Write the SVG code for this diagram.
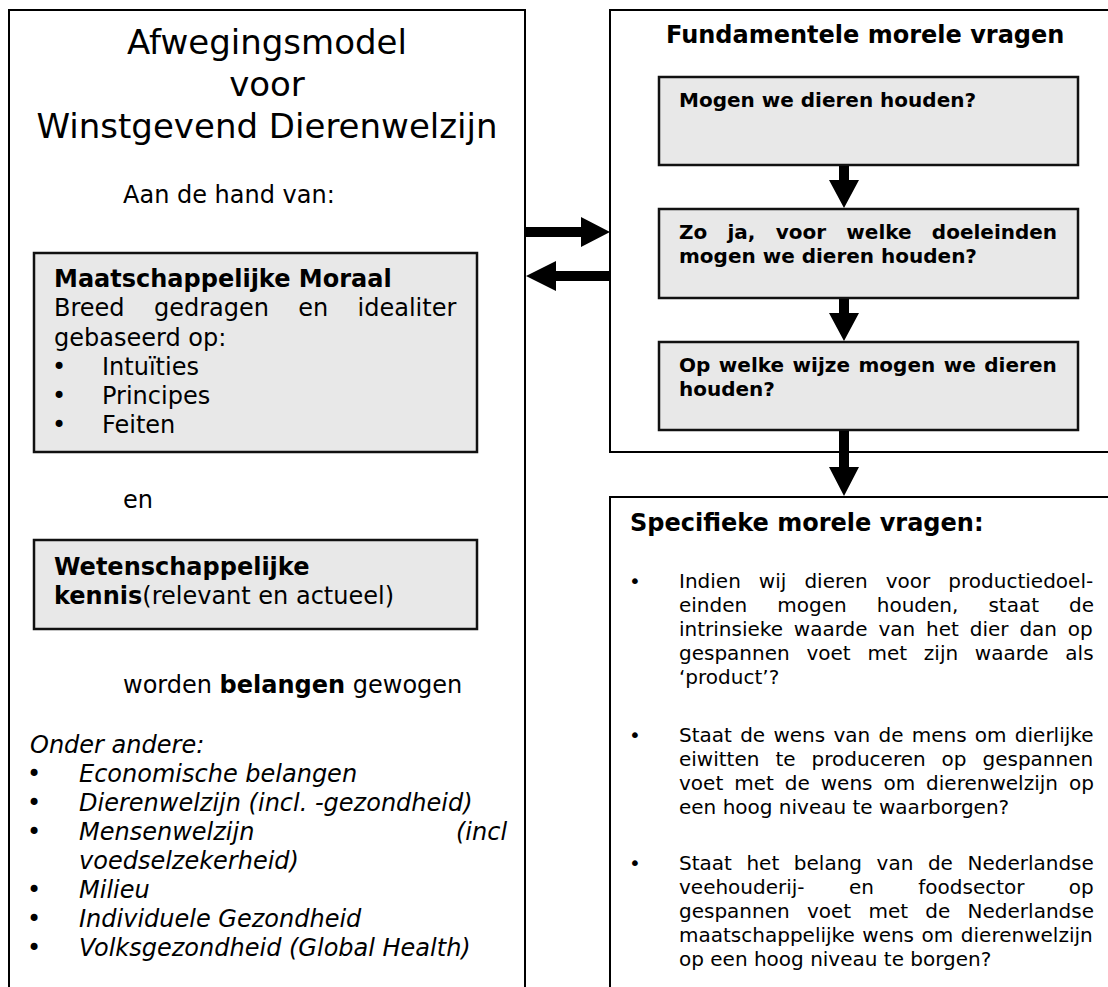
<svg xmlns="http://www.w3.org/2000/svg" width="1108" height="987" viewBox="0 0 1108 987">
<style>
text{font-family:"DejaVu Sans",Verdana,sans-serif;fill:#000}
.ttl{font-size:34px;text-anchor:middle}
.l{font-size:24px}
.lb{font-size:24px;font-weight:bold}
.li{font-size:24px;font-style:italic}
.r{font-size:20px}
.rb{font-size:20px;font-weight:bold}
.h{font-size:24px;font-weight:bold}
.panel{fill:#fff;stroke:#000;stroke-width:2}
.box{fill:#e8e8e8;stroke:#111;stroke-width:2.5}
.arrow{fill:#000}
</style>
<rect width="1108" height="987" fill="#fff"/>

<g id="left-panel">
<rect class="panel" x="9" y="10" width="516" height="1010"/>
<text class="ttl" x="267" y="54">Afwegingsmodel</text>
<text class="ttl" x="267" y="96">voor</text>
<text class="ttl" x="267" y="138">Winstgevend Dierenwelzijn</text>
<text class="l" x="123" y="203">Aan de hand van:</text>
</g>

<g id="maatschappelijke-moraal">
<rect class="box" x="34" y="253" width="443" height="199"/>
<text class="lb" x="54" y="287">Maatschappelijke Moraal</text>
<text class="l" x="54" y="316" word-spacing="21.7">Breed gedragen en idealiter</text>
<text class="l" x="54" y="345.5">gebaseerd op:</text>
<text class="l" x="52" y="375">•</text><text class="l" x="102" y="375">Intuïties</text>
<text class="l" x="52" y="404">•</text><text class="l" x="102" y="404">Principes</text>
<text class="l" x="52" y="433">•</text><text class="l" x="102" y="433">Feiten</text>
</g>

<g id="en">
<text class="l" x="123" y="508">en</text>
</g>

<g id="wetenschappelijke-kennis">
<rect class="box" x="34" y="540" width="443" height="89"/>
<text class="lb" x="54" y="575">Wetenschappelijke</text>
<text class="l" x="54" y="604"><tspan font-weight="bold">kennis</tspan>(relevant en actueel)</text>
</g>

<g id="belangen">
<text class="l" x="123" y="693">worden <tspan font-weight="bold">belangen</tspan> gewogen</text>
<text class="li" x="30" y="753">Onder andere:</text>
<text class="l" x="27" y="782">•</text><text class="li" x="79" y="782">Economische belangen</text>
<text class="l" x="27" y="811">•</text><text class="li" x="79" y="811">Dierenwelzijn (incl. -gezondheid)</text>
<text class="l" x="27" y="840">•</text><text class="li" y="840"><tspan x="79">Mensenwelzijn</tspan><tspan x="456">(incl</tspan></text>
<text class="li" x="79" y="869">voedselzekerheid)</text>
<text class="l" x="27" y="898">•</text><text class="li" x="79" y="898">Milieu</text>
<text class="l" x="27" y="927">•</text><text class="li" x="79" y="927">Individuele Gezondheid</text>
<text class="l" x="27" y="956">•</text><text class="li" x="79" y="956">Volksgezondheid (Global Health)</text>
</g>

<g id="fundamentele-vragen">
<rect class="panel" x="610" y="10" width="520" height="442"/>
<text class="h" x="666" y="43">Fundamentele morele vragen</text>
</g>

<g id="vraag-1">
<rect class="box" x="659" y="77" width="419" height="88"/>
<text class="rb" x="679" y="107">Mogen we dieren houden?</text>
</g>

<g id="vraag-2">
<rect class="box" x="659" y="209" width="419" height="89"/>
<text class="rb" x="679" y="239" word-spacing="13.3">Zo ja, voor welke doeleinden</text>
<text class="rb" x="679" y="263">mogen we dieren houden?</text>
</g>

<g id="vraag-3">
<rect class="box" x="659" y="342" width="419" height="88"/>
<text class="rb" x="679" y="372" word-spacing="1.56">Op welke wijze mogen we dieren</text>
<text class="rb" x="679" y="396">houden?</text>
</g>

<g id="specifieke-vragen">
<rect class="panel" x="610" y="497" width="520" height="520"/>
<text class="h" x="630" y="531">Specifieke morele vragen:</text>
<text class="r" x="629" y="588">•</text>
<text class="r" x="679" y="588" word-spacing="11.7">Indien wij dieren voor productiedoel-</text>
<text class="r" x="679" y="612" word-spacing="23.7">einden mogen houden, staat de</text>
<text class="r" x="679" y="636" word-spacing="4.5">intrinsieke waarde van het dier dan op</text>
<text class="r" x="679" y="660" word-spacing="10.4">gespannen voet met zijn waarde als</text>
<text class="r" x="679" y="684">‘product’?</text>
<text class="r" x="629" y="742">•</text>
<text class="r" x="679" y="742" word-spacing="1.9">Staat de wens van de mens om dierlijke</text>
<text class="r" x="679" y="766" word-spacing="9.6">eiwitten te produceren op gespannen</text>
<text class="r" x="679" y="790" word-spacing="4.6">voet met de wens om dierenwelzijn op</text>
<text class="r" x="679" y="814">een hoog niveau te waarborgen?</text>
<text class="r" x="629" y="870">•</text>
<text class="r" x="679" y="870" word-spacing="8.2">Staat het belang van de Nederlandse</text>
<text class="r" x="679" y="894" word-spacing="38">veehouderij- en foodsector op</text>
<text class="r" x="679" y="918" word-spacing="10.9">gespannen voet met de Nederlandse</text>
<text class="r" x="679" y="942" word-spacing="1.2">maatschappelijke wens om dierenwelzijn</text>
<text class="r" x="679" y="966">op een hoog niveau te borgen?</text>
</g>

<g id="connectors">
<polygon class="arrow" points="525,227 581,227 581,217 610,232 581,247 581,237 525,237"/>
<polygon class="arrow" points="610,271 556,271 556,261 526,276 556,291 556,281 610,281"/>
<polygon class="arrow" points="839,166 849,166 849,180 859,180 844,208 829,180 839,180"/>
<polygon class="arrow" points="839,299 849,299 849,313 859,313 844,341 829,313 839,313"/>
<polygon class="arrow" points="839,431 849,431 849,467 859,467 844,496 829,467 839,467"/>
</g>
</svg>
